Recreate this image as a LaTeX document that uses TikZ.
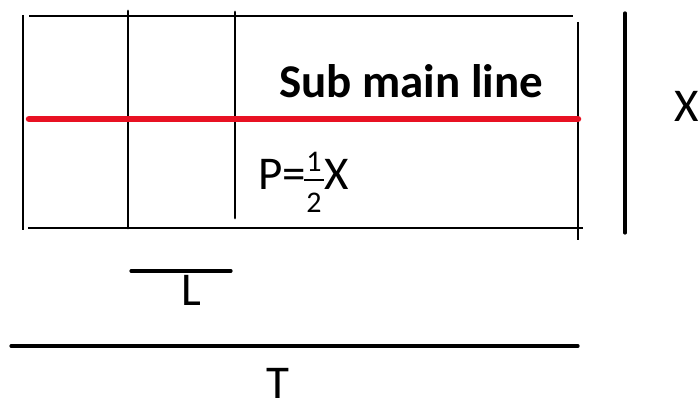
\documentclass[tikz,border=0pt]{standalone}
\usepackage{fontspec}
\setmainfont{Carlito}
\definecolor{subred}{RGB}{232,17,35}
\begin{document}
\begin{tikzpicture}[x=1pt,y=-1pt,
  thinline/.style={line width=1.3pt,black},
  divline/.style={line width=2.8pt,black,line cap=round},
  dimline/.style={line width=3.2pt,black,line cap=round},
  redline/.style={line width=6.5pt,subred,line cap=round},
  lbl/.style={anchor=base west,inner sep=0pt,font=\fontsize{47}{56}\selectfont},
  digit/.style={anchor=base,inner sep=0pt,font=\fontsize{30}{36}\selectfont}]
\useasboundingbox (0,0) rectangle (699,403);
% frame
\draw[thinline] (23,15) -- (23,230);
\draw[thinline] (29,16) -- (573,16);
\draw[thinline] (578,22) -- (578,240);
\draw[thinline] (28,228) -- (583,228);
% dividers
\draw[divline] (128,11) -- (128,228);
\draw[divline] (235,12) -- (235,218);
% sub main line
\draw[redline] (29,119) -- (578,119);
\node[lbl,font=\fontsize{47}{56}\selectfont\bfseries] (sub) at (279,98) {Sub main line};
% P = 1/2 X
\node[lbl] (p) at (258,190) {P=};
\node[digit] (num) at (314,172) {1};
\node[digit] (den) at (314,213) {2};
\draw[line width=2.2pt] (304,180) -- (324,180);
\node[lbl] (px) at (324,190) {X};
% X dimension
\draw[dimline] (625,13) -- (625,233);
\node[lbl] (x) at (674,122) {X};
% L dimension
\draw[dimline] (131,271) -- (231,271);
\node[lbl] (l) at (181,306) {L};
% T dimension
\draw[dimline] (11,346) -- (578,346);
\node[lbl] (t) at (266,399) {T};
\end{tikzpicture}
\end{document}
